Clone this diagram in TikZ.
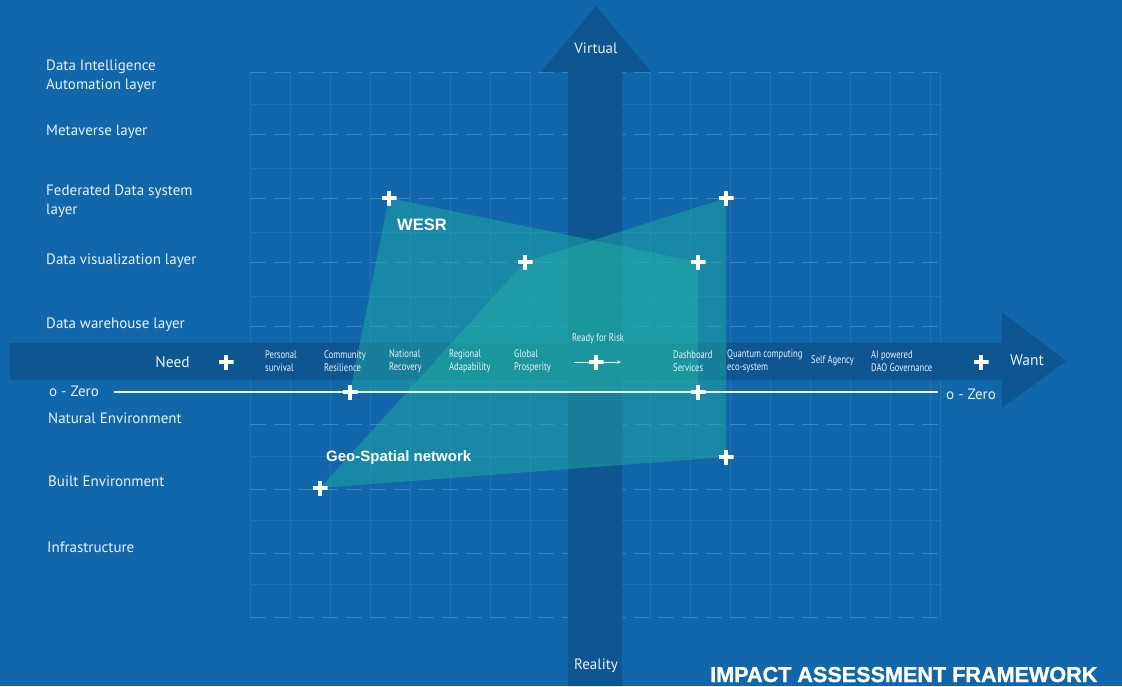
\documentclass[tikz,border=0pt]{standalone}
\usepackage{fontspec}
\setmainfont{PT Sans}
\newfontfamily\condfont[FakeStretch=0.78]{PT Sans}
\newfontfamily\arialfont{Liberation Sans}
\newfontfamily\titlefont[FakeBold=1.2]{Liberation Sans}
\usetikzlibrary{arrows.meta}
\definecolor{bgblue}{RGB}{17,103,170}
\definecolor{darkarrow}{RGB}{14,86,146}
\definecolor{gridc}{RGB}{30,116,182}
\definecolor{gridd}{RGB}{52,135,196}
\definecolor{tealfill}{RGB}{35,178,165}
\definecolor{txt}{RGB}{232,242,250}
\tikzset{
  layerlbl/.style={anchor=west, inner sep=0pt, text=txt, font=\fontsize{15}{19}\selectfont, align=left},
  axislbl/.style={anchor=west, inner sep=0pt, text=txt, font=\condfont\fontsize{11}{13}\selectfont, align=left},
  biglbl/.style={inner sep=0pt, text=txt, font=\fontsize{15.5}{18}\selectfont},
  boldlbl/.style={anchor=west, inner sep=0pt, text=white, font=\arialfont\bfseries\fontsize{15}{18}\selectfont},
  plusmark/.style={minimum size=15pt, inner sep=0pt, path picture={
     \draw[white, line width=3.6pt] (path picture bounding box.west) -- (path picture bounding box.east);
     \draw[white, line width=3.6pt] (path picture bounding box.north) -- (path picture bounding box.south);}},
  gridline/.style={draw=gridc, line width=0.6pt},
  griddash/.style={draw=gridd, line width=0.9pt, dash pattern=on 16pt off 8pt},
  region/.style={fill=tealfill, fill opacity=0.45},
  zeroline/.style={draw=txt, line width=1.6pt},
}
\begin{document}
\begin{tikzpicture}[x=1pt,y=-1pt]
\useasboundingbox (0,0) rectangle (1122,686);
\fill[bgblue] (0,0) rectangle (1122,686);

% grid
\foreach \x in {250,290,...,930} \draw[gridline] (\x,72) -- (\x,620);
\draw[gridline] (940,72) -- (940,620);
\foreach \y in {104,168,232,296,456,520,584} \draw[gridline] (250,\y) -- (940,\y);
\foreach \y in {72,134,198,262,326,424,489,553,617} \draw[griddash] (250,\y) -- (940,\y);

% axes arrows
\fill[darkarrow] (10,343) -- (1002,343) -- (1002,312) -- (1066,361) -- (1002,408) -- (1002,380) -- (10,380) -- cycle;
\fill[darkarrow] (568,686) -- (568,72) -- (541,72) -- (596,6) -- (651,72) -- (622,72) -- (622,686) -- cycle;

% region coordinates
\coordinate (w1) at (389,198);
\coordinate (w2) at (698,262);
\coordinate (w3) at (698,392);
\coordinate (w4) at (350,392);
\coordinate (g1) at (320,488);
\coordinate (g2) at (525,262);
\coordinate (g3) at (726,198);
\coordinate (g4) at (726,457);

\fill[region] (w1) -- (w2) -- (w3) -- (w4) -- cycle;
\fill[region] (g1) -- (g2) -- (g3) -- (g4) -- cycle;

% zero line
\coordinate (z0) at (114,392);
\coordinate (z1) at (938,392);
\draw[zeroline] (z0) -- (z1);

% left layer labels
\node[layerlbl] (l1) at (46,76) {Data Intelligence\\Automation layer};
\node[layerlbl] (l2) at (46,132) {Metaverse layer};
\node[layerlbl] (l3) at (46,201) {Federated Data system\\layer};
\node[layerlbl] (l4) at (46,261) {Data visualization layer};
\node[layerlbl] (l5) at (46,325) {Data warehouse layer};
\node[layerlbl] (lz) at (49,391) {o - Zero};
\node[layerlbl] (l6) at (48,418) {Natural Environment};
\node[layerlbl] (l7) at (48,481) {Built Environment};
\node[layerlbl] (l8) at (47,547) {Infrastructure};
\node[layerlbl] (rz) at (946,394) {o - Zero};

% axis ends
\node[biglbl, anchor=east] (need) at (190,362) {Need};
\node[biglbl, anchor=west] (want) at (1010,360) {Want};
\node[layerlbl, anchor=center] (virt) at (596,48) {Virtual};
\node[layerlbl, anchor=center] (real) at (596,666) {Reality};
\node[plusmark] (pneed) at (226,362) {};
\node[plusmark] (pwant) at (981,362) {};

% axis items
\node[axislbl] (a1) at (265,361) {Personal\\survival};
\node[axislbl] (a2) at (324,361) {Community\\Resilience};
\node[axislbl] (a3) at (389,361) {National\\Recovery};
\node[axislbl] (a4) at (449,361) {Regional\\Adapability};
\node[axislbl] (a5) at (514,361) {Global\\Prosperity};
\node[axislbl] (a6) at (572,339) {Ready for Risk};
\node[axislbl] (a7) at (673,361) {Dashboard\\Services};
\node[axislbl] (a8) at (727,361) {Quantum computing\\eco-system};
\node[axislbl] (a9) at (811,361) {Self Agency};
\node[axislbl] (a10) at (871,361) {AI powered\\DAO Governance};

% ready for risk arrow
\coordinate (rr0) at (574,362);
\coordinate (rr1) at (621,362);
\draw[draw=txt, line width=0.8pt, -{Stealth[length=4pt,width=3.5pt]}] (rr0) -- (rr1);
\node[plusmark] (prisk) at (596,362) {};

% markers
\node[plusmark] (pw1) at (w1) {};
\node[plusmark] (pw2) at (w2) {};
\node[plusmark] (pw3) at (w3) {};
\node[plusmark] (pw4) at (w4) {};
\node[plusmark] (pg1) at (g1) {};
\node[plusmark] (pg2) at (g2) {};
\node[plusmark] (pg3) at (g3) {};
\node[plusmark] (pg4) at (g4) {};

% region labels
\node[boldlbl, font=\arialfont\bfseries\fontsize{16.5}{18}\selectfont] (wesr) at (397,225) {WESR};
\node[boldlbl] (geo) at (326,458) {Geo-Spatial network};

% title
\node[anchor=base west, inner sep=0pt, text=white, font=\titlefont\bfseries\fontsize{21.6}{24}\selectfont] (title) at (710,682) {IMPACT ASSESSMENT FRAMEWORK};
\end{tikzpicture}
\end{document}
